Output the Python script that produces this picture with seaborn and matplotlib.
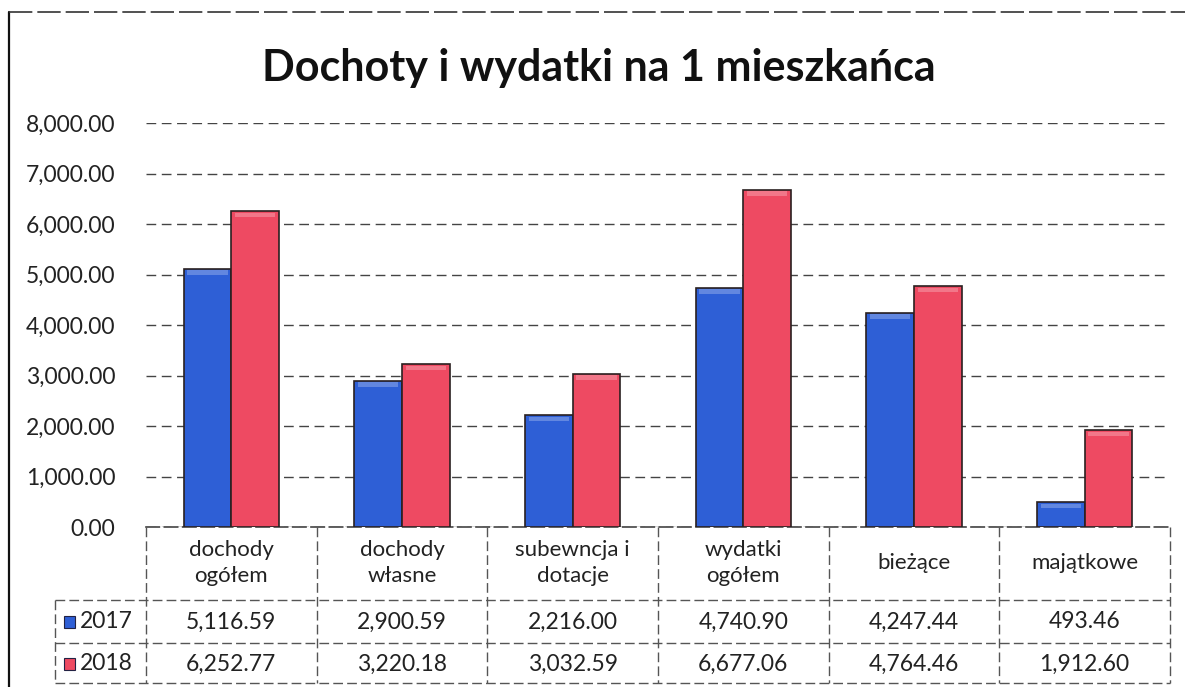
import matplotlib
matplotlib.use("Agg")
import matplotlib.pyplot as plt
from matplotlib.lines import Line2D
from matplotlib.patches import Rectangle
import seaborn as sns
import pandas as pd

categories = ["dochody\nogółem", "dochody\nwłasne", "subewncja i\ndotacje",
              "wydatki\nogółem", "bieżące", "majątkowe"]
years = ["2017", "2018"]
values_2017 = [5116.59, 2900.59, 2216.00, 4740.90, 4247.44, 493.46]
values_2018 = [6252.77, 3220.18, 3032.59, 6677.06, 4764.46, 1912.60]
y_ticks = [0, 1000, 2000, 3000, 4000, 5000, 6000, 7000, 8000]
title = "Dochoty i wydatki na 1 mieszkańca"

colors = {"2017": "#2E5FD6", "2018": "#EE4A62"}

sns.set_theme(style="white")
plt.rcParams["font.family"] = ["Lato", "DejaVu Sans"]

df = pd.DataFrame({
    "cat": categories * 2,
    "year": [years[0]] * len(categories) + [years[1]] * len(categories),
    "value": values_2017 + values_2018,
})

W, H = 1185, 687
fig = plt.figure(figsize=(W / 100, H / 100), dpi=100)
fig.patch.set_facecolor("white")

def fx(px):
    return px / W

def fy(py):
    return 1 - py / H

left, right, top, bottom = 146, 1170, 123, 527
ax = fig.add_axes([fx(left), fy(bottom), fx(right - left), (bottom - top) / H])

sns.barplot(data=df, x="cat", y="value", hue="year", palette=colors,
            width=0.56, edgecolor="#2a2020", linewidth=1.2, saturation=1,
            ax=ax, legend=False, zorder=3)
ax.set_ylim(0, 8000)
ax.set_xlim(-0.5, len(categories) - 0.5)
ax.set_yticks(y_ticks)
ax.set_yticklabels([f"{v:,.2f}" for v in y_ticks], fontsize=16.5, color="#222222")
ax.set_xticks([])
ax.set_xlabel("")
ax.set_ylabel("")
ax.tick_params(axis="y", length=0, pad=22)
for s in ["top", "right", "left"]:
    ax.spines[s].set_visible(False)
ax.spines["bottom"].set_color("#444444")
ax.spines["bottom"].set_linestyle((0, (8, 3)))
ax.spines["bottom"].set_linewidth(1.2)
ax.yaxis.grid(True, color="#444444", linestyle=(0, (7, 4)), linewidth=1.0, zorder=0)
ax.set_axisbelow(True)

# subtle bevel highlight on the tops of bars
for p in ax.patches:
    h = p.get_height()
    if h > 0:
        ax.add_patch(Rectangle((p.get_x() + p.get_width() * 0.08, h - 120),
                               p.get_width() * 0.84, 90, color="white",
                               alpha=0.25, lw=0, zorder=4))

fig.text(0.505, fy(68), title, ha="center", va="center", fontsize=31,
         fontweight="bold", color="#111111")

# data table below the axis
line_kw = dict(color="#555555", linewidth=1.0, linestyle=(0, (7, 3)))
tb_left = 55
row_y = [600, 643, 683]
for yy in row_y:
    fig.add_artist(Line2D([fx(tb_left), fx(right)], [fy(yy), fy(yy)], **line_kw))
# vertical separators between categories
for i in range(len(categories) + 1):
    xd = i - 0.5
    xpix = left + (xd + 0.5) / len(categories) * (right - left)
    fig.add_artist(Line2D([fx(xpix), fx(xpix)], [fy(bottom), fy(683)], **line_kw))
fig.add_artist(Line2D([fx(tb_left), fx(tb_left)], [fy(600), fy(683)], **line_kw))

trans = ax.get_xaxis_transform()
def ax_y(py):
    return (bottom - py) / (bottom - top)

for i, c in enumerate(categories):
    ax.text(i, ax_y(563), c, transform=trans, ha="center", va="center",
            fontsize=16, color="#222222", clip_on=False, linespacing=1.35)
    ax.text(i, ax_y(622), f"{values_2017[i]:,.2f}", transform=trans,
            ha="center", va="center", fontsize=16.5, color="#222222", clip_on=False)
    ax.text(i, ax_y(664), f"{values_2018[i]:,.2f}", transform=trans,
            ha="center", va="center", fontsize=16.5, color="#222222", clip_on=False)

for yr, yc in zip(years, [622, 664]):
    fig.add_artist(Rectangle((fx(64), fy(yc + 6)), fx(11), 12 / H,
                             facecolor=colors[yr], edgecolor="#222244", lw=0.8))
    fig.text(fx(80), fy(yc), yr, ha="left", va="center", fontsize=16.5, color="#222222")

# outer frame (left and top)
fig.add_artist(Line2D([fx(9), fx(9)], [fy(12), fy(687)], color="#111111", linewidth=1.6))
fig.add_artist(Line2D([fx(9), fx(1185)], [fy(12), fy(12)], color="#333333",
                      linewidth=1.2, linestyle=(0, (14, 3))))

fig.savefig("out.png", dpi=100, facecolor="white")
